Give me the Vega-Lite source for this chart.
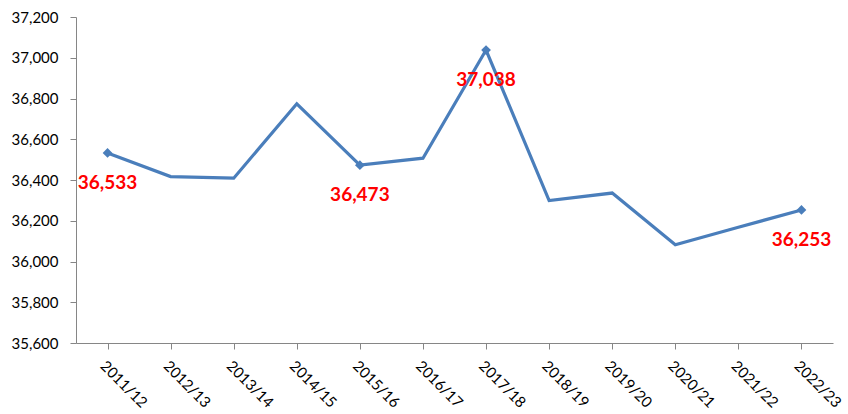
{
  "$schema": "https://vega.github.io/schema/vega-lite/v6.json",
  "autosize": "none",
  "width": 757,
  "height": 326,
  "padding": {"left": 76, "top": 17, "right": 15, "bottom": 71},
  "background": "white",
  "config": {"view": {"stroke": null}, "font": "Lato"},
  "data": {
    "values": [
      {"year": "2011/12", "value": 36533, "label": "36,533"},
      {"year": "2012/13", "value": 36417, "label": ""},
      {"year": "2013/14", "value": 36409, "label": ""},
      {"year": "2014/15", "value": 36774, "label": ""},
      {"year": "2015/16", "value": 36473, "label": "36,473"},
      {"year": "2016/17", "value": 36507, "label": ""},
      {"year": "2017/18", "value": 37038, "label": "37,038"},
      {"year": "2018/19", "value": 36299, "label": ""},
      {"year": "2019/20", "value": 36336, "label": ""},
      {"year": "2020/21", "value": 36082, "label": ""},
      {"year": "2021/22", "value": 36168, "label": ""},
      {"year": "2022/23", "value": 36253, "label": "36,253"}
    ]
  },
  "encoding": {
    "x": {
      "field": "year", "type": "ordinal", "title": null,
      "scale": {"paddingInner": 0, "paddingOuter": 0},
      "axis": {
        "labelAngle": 45, "labelAlign": "left", "labelBaseline": "top",
        "labelFontSize": 15, "labelColor": "#000000", "labelPadding": 9,
        "labelFont": "Lato",
        "bandPosition": 0, "tickColor": "#868686", "tickSize": 6,
        "domainColor": "#868686", "domainWidth": 1, "grid": false
      }
    },
    "y": {
      "field": "value", "type": "quantitative", "title": null,
      "scale": {"domain": [35600, 37200], "nice": false, "zero": false},
      "axis": {
        "values": [35600, 35800, 36000, 36200, 36400, 36600, 36800, 37000, 37200],
        "format": ",d", "labelFontSize": 15, "labelColor": "#000000",
        "labelPadding": 12, "labelFont": "Lato",
        "tickColor": "#868686", "tickSize": 6, "domainColor": "#868686",
        "grid": false
      }
    }
  },
  "layer": [
    {"mark": {"type": "line", "color": "#4a7ebb", "strokeWidth": 3.2}},
    {
      "transform": [{"filter": "datum.label != ''"}],
      "mark": {"type": "point", "shape": "diamond", "filled": true, "color": "#4a7ebb", "size": 95, "opacity": 1}
    },
    {
      "transform": [{"filter": "datum.label != ''"}],
      "mark": {"type": "text", "color": "#ff0000", "fontWeight": "bold", "fontSize": 19, "dy": 30, "font": "Lato"},
      "encoding": {"text": {"field": "label"}}
    }
  ]
}
